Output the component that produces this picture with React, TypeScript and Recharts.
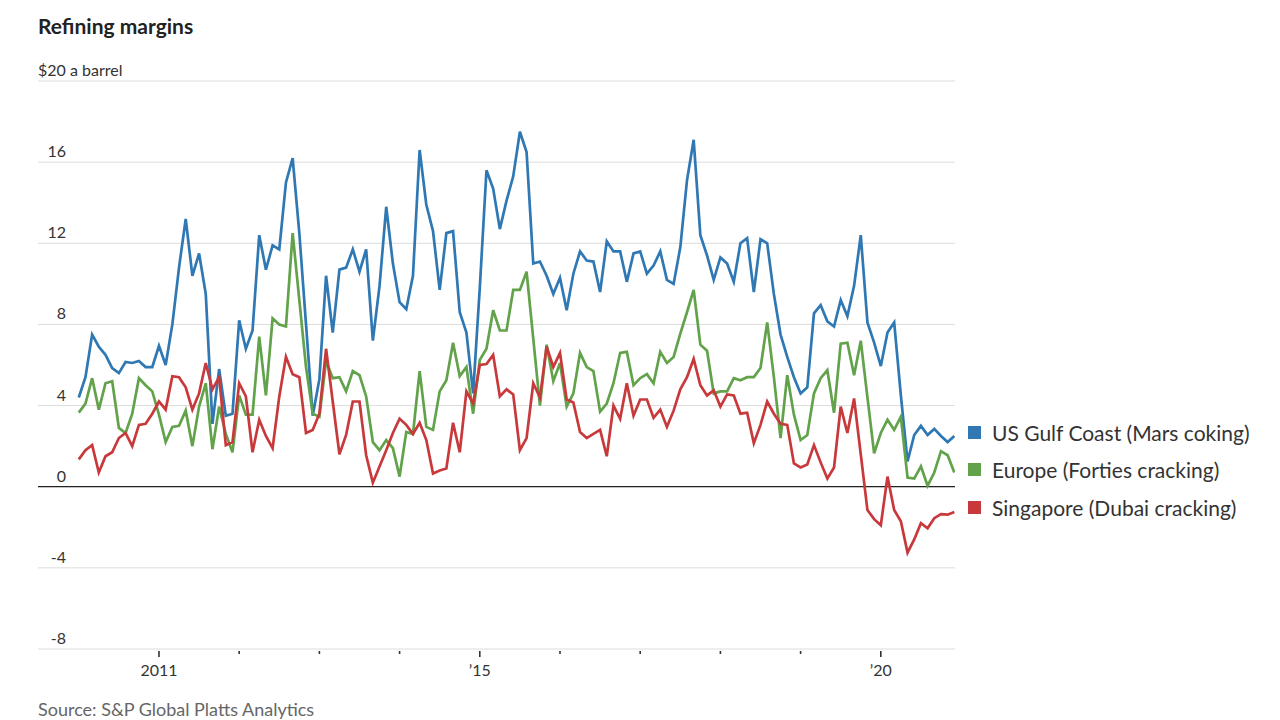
import { LineChart, Line, XAxis, YAxis, CartesianGrid, ReferenceLine } from 'recharts'

// monthly, Jan 2010 .. Dec 2020, $ a barrel
const US_GULF = [
  4.4, 5.4, 7.5, 6.9, 6.5, 5.85, 5.6, 6.15, 6.1, 6.2, 5.9, 5.9,
  6.95, 6.0, 8.0, 10.8, 13.2, 10.4, 11.5, 9.5, 3.1, 5.8, 3.5, 3.6,
  8.2, 6.8, 7.7, 12.4, 10.7, 11.9, 11.7, 15.0, 16.2, 12.5, 8.0, 3.5,
  5.3, 10.4, 7.6, 10.7, 10.8, 11.7, 10.6, 11.7, 7.2, 9.9, 13.8, 11.0,
  9.1, 8.75, 10.4, 16.6, 13.9, 12.6, 9.7, 12.5, 12.6, 8.6, 7.6, 4.6,
  9.8, 15.6, 14.7, 12.7, 14.1, 15.3, 17.5, 16.5, 11.0, 11.1, 10.4, 9.5,
  10.3, 8.7, 10.5, 11.6, 11.15, 11.1, 9.6, 12.1, 11.6, 11.6, 10.1, 11.5,
  11.6, 10.5, 10.9, 11.6, 10.2, 10.0, 11.8, 15.1, 17.1, 12.4, 11.4, 10.2,
  11.3, 11.0, 10.1, 12.0, 12.25, 9.6, 12.2, 12.0, 9.5, 7.5, 6.4, 5.4,
  4.6, 4.9, 8.55, 8.95, 8.15, 7.9, 9.2, 8.4, 9.9, 12.4, 8.1, 7.1,
  5.95, 7.6, 8.1, 4.5, 1.25, 2.55, 3.0, 2.55, 2.85, 2.5, 2.2, 2.5,
]

const EUROPE = [
  3.65, 4.1, 5.35, 3.8, 5.1, 5.2, 2.9, 2.65, 3.6, 5.35, 5.0, 4.7,
  3.55, 2.2, 2.95, 3.0, 3.75, 2.0, 3.95, 5.1, 1.85, 3.95, 2.6, 1.7,
  4.5, 3.55, 3.55, 7.4, 4.5, 8.3, 8.0, 7.9, 12.5, 9.2, 5.9, 3.6,
  3.45, 6.2, 5.35, 5.4, 4.7, 5.7, 5.5, 4.45, 2.2, 1.8, 2.3, 1.9,
  0.5, 2.7, 2.6, 5.7, 2.95, 2.8, 4.7, 5.25, 7.1, 5.45, 5.9, 3.6,
  6.25, 6.8, 8.7, 7.7, 7.7, 9.7, 9.7, 10.6, 7.3, 4.0, 7.0, 5.2,
  6.1, 3.95, 4.6, 6.6, 5.9, 5.7, 3.7, 4.1, 5.1, 6.6, 6.65, 5.0,
  5.35, 5.55, 5.1, 6.65, 6.1, 6.4, 7.55, 8.6, 9.7, 7.0, 6.7, 4.6,
  4.7, 4.7, 5.35, 5.25, 5.4, 5.4, 5.85, 8.1, 5.4, 2.4, 5.5, 3.55,
  2.3, 2.55, 4.6, 5.35, 5.75, 3.65, 7.05, 7.1, 5.5, 7.2, 4.4, 1.65,
  2.65, 3.3, 2.8, 3.45, 0.45, 0.4, 1.0, 0.05, 0.7, 1.75, 1.55, 0.7,
]

const SINGAPORE = [
  1.35, 1.8, 2.05, 0.7, 1.5, 1.7, 2.4, 2.65, 2.0, 3.05, 3.1, 3.6,
  4.2, 3.8, 5.45, 5.4, 4.9, 3.8, 4.6, 6.1, 4.8, 5.4, 2.05, 2.2,
  5.1, 4.45, 1.7, 3.3, 2.5, 1.9, 4.45, 6.4, 5.55, 5.4, 2.65, 2.8,
  3.6, 6.8, 4.2, 1.6, 2.55, 4.2, 4.2, 1.55, 0.2, 1.0, 1.8, 2.65,
  3.35, 3.05, 2.6, 3.15, 2.3, 0.65, 0.8, 0.9, 3.15, 1.7, 4.7, 4.1,
  6.0, 6.05, 6.5, 4.45, 4.8, 4.55, 1.8, 2.4, 5.1, 4.4, 6.9, 5.9,
  6.6, 4.3, 4.15, 2.7, 2.4, 2.6, 2.8, 1.5, 4.0, 3.35, 5.1, 3.5,
  4.3, 4.3, 3.4, 3.8, 2.95, 3.75, 4.8, 5.4, 6.3, 5.0, 4.5, 4.75,
  3.95, 4.55, 4.5, 3.6, 3.65, 2.15, 3.05, 4.2, 3.6, 3.1, 3.05, 1.15,
  0.95, 1.1, 2.05, 1.2, 0.4, 0.95, 3.95, 2.65, 4.35, 1.6, -1.15, -1.6,
  -1.9, 0.5, -1.15, -1.7, -3.25, -2.6, -1.8, -2.05, -1.55, -1.35, -1.38, -1.25,
]

const Y_TICKS = [-8, -4, 0, 4, 8, 12, 16, 20]
// month index of each January, 2011..2020
const YEAR_TICKS = [12, 24, 36, 48, 60, 72, 84, 96, 108, 120]
const YEAR_LABELS: Record<number, string> = { 12: '2011', 60: '\u201915', 120: '\u201920' }

const SERIES = [
  { key: 'us', name: 'US Gulf Coast (Mars coking)', color: '#2f78b3' },
  { key: 'eu', name: 'Europe (Forties cracking)', color: '#62a24b' },
  { key: 'sg', name: 'Singapore (Dubai cracking)', color: '#c8393c' },
]

const data = US_GULF.map((v, i) => ({ i, us: v, eu: EUROPE[i], sg: SINGAPORE[i] }))

const FONT = 'Lato, "Noto Sans", sans-serif'

function YTick({ y, payload }: any) {
  if (payload.value === 20) {
    return (
      <text x={38} y={y - 5} fontSize={16} fill="#333" fontFamily={FONT}>$20 a barrel</text>
    )
  }
  return (
    <text x={66} y={y - 5} fontSize={16} fill="#333" textAnchor="end" fontFamily={FONT}>
      {payload.value}
    </text>
  )
}

function XTick({ x, payload }: any) {
  const label = YEAR_LABELS[payload.value]
  const base = 649
  return (
    <g>
      <line x1={x} x2={x} y1={base + 2} y2={base + (label ? 8 : 5)} stroke="#333" strokeWidth={1.6} />
      {label && (
        <text x={x} y={base + 27} fontSize={16} fill="#333" textAnchor="middle" fontFamily={FONT}>{label}</text>
      )}
    </g>
  )
}

export default function App() {
  return (
    <div style={{ position: 'absolute', left: 0, top: 0, width: 1280, height: 720, background: '#fff', fontFamily: FONT }}>
      <div style={{ position: 'absolute', left: 38, top: 13, fontSize: 21, fontWeight: 700, color: '#222' }}>
        Refining margins
      </div>
      <LineChart width={1280} height={720} data={data} margin={{ top: 81, right: 325, bottom: 41, left: 8 }}>
        <CartesianGrid horizontal vertical={false} stroke="#dcdcdc" strokeWidth={1} />
        <XAxis
          type="number"
          dataKey="i"
          domain={[-6.1, 131.1]}
          allowDataOverflow
          ticks={YEAR_TICKS}
          tick={<XTick />}
          tickLine={false}
          axisLine={false}
          interval={0}
          height={30}
        />
        <YAxis
          domain={[-8, 20]}
          ticks={Y_TICKS}
          tick={<YTick />}
          tickLine={false}
          axisLine={false}
          width={30}
          interval={0}
        />
        <ReferenceLine y={0} stroke="#222" strokeWidth={1.2} />
        {SERIES.map((s) => (
          <Line
            key={s.key}
            type="linear"
            dataKey={s.key}
            stroke={s.color}
            strokeWidth={2.7}
            dot={false}
            isAnimationActive={false}
          />
        ))}
      </LineChart>
      {SERIES.map((s, idx) => (
        <div
          key={s.key}
          style={{ position: 'absolute', left: 968, top: 419 + idx * 37.5, display: 'flex', alignItems: 'center', height: 26, fontSize: 21, color: '#333', whiteSpace: 'nowrap' }}
        >
          <span style={{ display: 'inline-block', width: 13, height: 13, background: s.color, marginRight: 11 }} />
          {s.name}
        </div>
      ))}
      <div style={{ position: 'absolute', left: 38, top: 698, fontSize: 18, color: '#666' }}>
        Source: S&amp;P Global Platts Analytics
      </div>
    </div>
  )
}
